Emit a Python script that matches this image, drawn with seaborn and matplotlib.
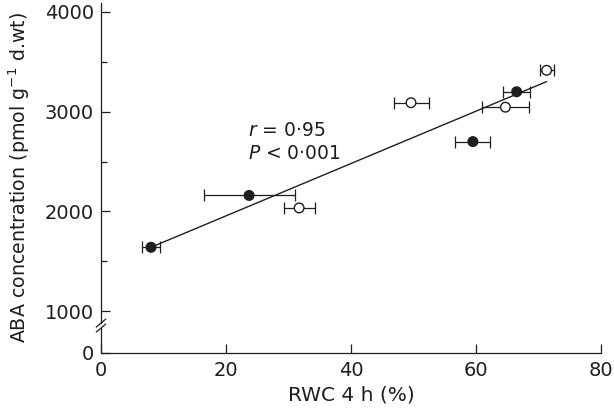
import numpy as np
import pandas as pd
import matplotlib
matplotlib.use("Agg")
import matplotlib.pyplot as plt
import seaborn as sns
from matplotlib.ticker import FixedLocator
from matplotlib.lines import Line2D

# ---- data ----
group = ["filled", "filled", "filled", "filled", "open", "open", "open", "open"]
rwc = [8.0, 23.7, 59.5, 66.5, 31.7, 49.6, 64.7, 71.3]
rwc_err = [1.4, 7.3, 2.8, 2.2, 2.5, 2.8, 3.7, 1.1]
aba = [1640, 2160, 2700, 3200, 2035, 3090, 3045, 3415]

ytick_vals = [1000, 2000, 3000, 4000]
ytick_labels = ["1000", "2000", "3000", "4000"]
xtick_vals = [0, 20, 40, 60, 80]
annot_r = "0·95"
annot_p = "0·001"

# broken axis: real 0 shown at this fake position
FAKE_ZERO = 580

df = pd.DataFrame({"group": group, "rwc": rwc, "err": rwc_err, "aba": aba})

sns.set_theme(style="ticks")
plt.rcParams["font.family"] = ["DejaVu Sans"]
plt.rcParams["mathtext.fontset"] = "dejavusans"

INK = "#1e1e1e"
fig = plt.figure(figsize=(6.14, 4.13), dpi=100)
ax = fig.add_axes([101 / 614, 60 / 413, 500 / 614, 350 / 413])

# error bars
ax.errorbar(df["rwc"], df["aba"], xerr=df["err"], fmt="none", ecolor=INK,
            elinewidth=0.9, capsize=4.2, capthick=0.9, zorder=2)

# regression line
sns.regplot(data=df, x="rwc", y="aba", scatter=False, ci=None, ax=ax,
            line_kws=dict(color=INK, lw=1.0, zorder=1))

# markers
sns.scatterplot(data=df, x="rwc", y="aba", hue="group",
                palette={"filled": INK, "open": "white"},
                edgecolor=INK, linewidth=1.0, s=48, legend=False, ax=ax, zorder=3)

ax.set_xlim(0, 80)
ax.set_ylim(FAKE_ZERO, 4090)

ax.xaxis.set_major_locator(FixedLocator(xtick_vals))
ax.set_xticklabels([str(v) for v in xtick_vals])
ax.yaxis.set_major_locator(FixedLocator([FAKE_ZERO] + ytick_vals))
ax.set_yticklabels(["0"] + ytick_labels)
ax.yaxis.set_minor_locator(FixedLocator([1500, 2500, 3500]))

ax.tick_params(axis="both", which="major", direction="in", length=6.5, width=0.9,
               colors=INK, labelsize=14, pad=5)
ax.tick_params(axis="y", which="minor", direction="in", length=4.3, width=0.9, colors=INK)
ax.tick_params(axis="x", which="major", pad=6)

for s in ["top", "right"]:
    ax.spines[s].set_visible(False)
for s in ["left", "bottom"]:
    ax.spines[s].set_color(INK)
    ax.spines[s].set_linewidth(0.9)

# axis break
ax.spines["left"].set_bounds(880, 4090)
tr = ax.get_yaxis_transform()
ax.add_line(Line2D([0, 0], [FAKE_ZERO, 830], transform=tr, color=INK, lw=0.9, clip_on=False))
for y0, y1 in [(840, 920), (790, 870)]:
    ax.add_line(Line2D([-0.0095, 0.0095], [y0, y1], transform=tr, color=INK, lw=0.9,
                       clip_on=False))

ax.set_xlabel("RWC 4 h (%)", fontsize=14.5, color=INK, labelpad=4)
ax.set_ylabel(r"ABA concentration (pmol g$^{-1}$ d.wt)", fontsize=13.7, color=INK,
              labelpad=9)

ax.text(23.5, 2760, r"$r$ = " + annot_r, fontsize=13.5, color=INK, va="baseline")
ax.text(23.5, 2530, r"$P$ < " + annot_p, fontsize=13.5, color=INK, va="baseline")

fig.savefig("out.png", dpi=100)
